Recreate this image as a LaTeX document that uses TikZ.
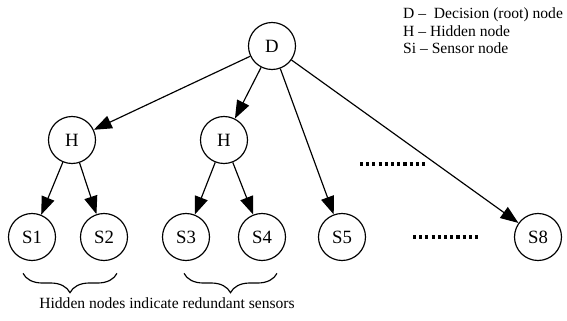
\documentclass[tikz,border=0pt]{standalone}
\usepackage{fontspec}
\setmainfont{Liberation Serif}
\usetikzlibrary{arrows.meta,decorations.pathreplacing}
\tikzset{vtx/.style={draw,circle,line width=1pt,minimum size=1.41cm,inner sep=0pt,font=\fontsize{16}{18}\selectfont},
arr/.style={line width=1pt,-{Triangle[length=.54cm,width=.4cm]}},
dotline/.style={line width=2.6pt,dash pattern=on 2.6pt off 2.7pt},
brc/.style={decorate,decoration={brace,mirror,amplitude=.58cm},line width=1pt}}
\begin{document}
\begin{tikzpicture}[font=\fontsize{13.3}{15}\selectfont]
\useasboundingbox(0,0)rectangle(17.01,9.6);
\node[vtx](d)at(8.16,8.22){D};
\node[vtx](h1)at(2.16,5.4){H};\node[vtx](h2)at(6.72,5.4){H};
\node[vtx](s1)at(.96,2.49){S1};\node[vtx](s2)at(3.12,2.49){S2};
\node[vtx](s3)at(5.58,2.49){S3};\node[vtx](s4)at(7.86,2.49){S4};
\node[vtx](s5)at(10.26,2.49){S5};\node[vtx](s8)at(16.14,2.49){S8};
\draw[arr](d)--(h1);\draw[arr](d)--(h2);\draw[arr](d)--(s5);\draw[arr](d)--(s8);
\draw[arr](h1)--(s1);\draw[arr](h1)--(s2);\draw[arr](h2)--(s3);\draw[arr](h2)--(s4);
% gaps between the shown sensors
\draw[dotline](10.8,4.68)--(12.81,4.68);\draw[dotline](12.39,2.49)--(14.4,2.49);
\draw[brc](.69,1.4)--(3.51,1.4);\draw[brc](5.52,1.4)--(8.31,1.4);
\node(note)at(5.01,.51){Hidden nodes indicate redundant sensors};
% legend
\node[anchor=base west,inner sep=0pt](lg1)at(12.09,9.06){D --\ \ Decision (root) node};
\node[anchor=base west,inner sep=0pt](lg2)at(12.09,8.52){H -- Hidden node};
\node[anchor=base west,inner sep=0pt](lg3)at(12.09,8.01){Si -- Sensor node};
\end{tikzpicture}
\end{document}
